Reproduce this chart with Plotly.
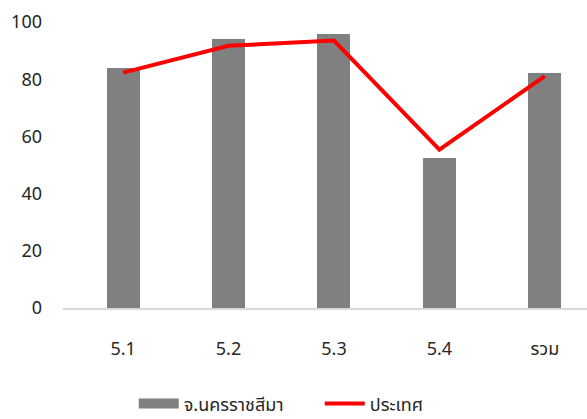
import plotly.graph_objects as go

categories = ["5.1", "5.2", "5.3", "5.4", "รวม"]
province_values = [84.0, 94.0, 95.8, 52.4, 82.2]
country_values = [82.3, 91.7, 93.5, 55.4, 81.1]
y_ticks = [0, 20, 40, 60, 80, 100]

font_family = "Noto Sans Thai, Leelawadee UI, Tahoma, Noto Sans, DejaVu Sans, sans-serif"
bar_color = "#808080"
line_color = "#FF0000"

fig = go.Figure()
fig.add_trace(go.Bar(
    x=categories, y=province_values, name="จ.นครราชสีมา",
    marker=dict(color=bar_color, line=dict(width=0)), width=0.313,
    showlegend=False,
))
# legend entry with a wide rectangle swatch like the reference
fig.add_trace(go.Scatter(
    x=[None], y=[None], name="จ.นครราชสีมา", mode="lines",
    line=dict(color=bar_color, width=15),
))
fig.add_trace(go.Scatter(
    x=categories, y=country_values, name="ประเทศ", mode="lines",
    line=dict(color=line_color, width=4),
))

fig.update_layout(
    width=587, height=419,
    margin=dict(l=63, r=0, t=22, b=111, autoexpand=False),
    paper_bgcolor="white", plot_bgcolor="white",
    font=dict(family=font_family, size=18, color="#262626"),
    showlegend=True,
    legend=dict(orientation="h", x=0.49, xanchor="center", y=-0.335, yanchor="middle",
                font=dict(size=18), itemwidth=40, tracegroupgap=0,
                entrywidth=131, entrywidthmode="pixels"),
    xaxis=dict(type="category", range=[-0.57, 4.40], showgrid=False,
               showline=True, linecolor="#d9d9d9", linewidth=1.5,
               ticks="", ticklabelstandoff=24, zeroline=False, automargin=False),
    yaxis=dict(range=[0, 100], tickvals=y_ticks, showgrid=False, showline=False,
               zeroline=False, ticks="", ticklabelstandoff=20, automargin=False),
    bargap=0,
)

fig.write_html("out.html", config={"displayModeBar": False},
               post_script="document.body.style.margin='0';document.body.style.overflow='hidden';")
